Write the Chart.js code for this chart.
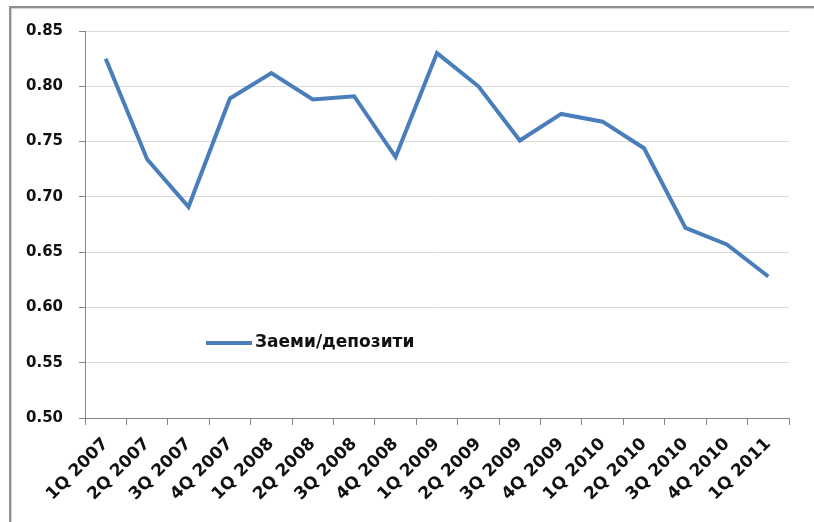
<!DOCTYPE html>
<html>
<head>
<meta charset="utf-8">
<script src="https://cdn.jsdelivr.net/npm/chart.js@4"></script>
<style>
html,body{margin:0;padding:0;background:#fff;}
#wrap{position:relative;width:814px;height:522px;overflow:hidden;}
#frame{position:absolute;left:9px;top:6px;width:900px;height:600px;border:2px solid #8f8f8f;box-shadow:1px 1px 1px #d0d0d0 inset;pointer-events:none;}
canvas{position:absolute;left:0;top:0;}
</style>
</head>
<body>
<div id="wrap">
<canvas id="c" width="814" height="522"></canvas>
<div id="frame"></div>
</div>
<script>
const categories = ["1Q 2007","2Q 2007","3Q 2007","4Q 2007","1Q 2008","2Q 2008","3Q 2008","4Q 2008","1Q 2009","2Q 2009","3Q 2009","4Q 2009","1Q 2010","2Q 2010","3Q 2010","4Q 2010","1Q 2011"];
const seriesName = "Заеми/депозити";
const loansDeposits = [0.825,0.734,0.691,0.789,0.812,0.788,0.791,0.736,0.830,0.800,0.751,0.775,0.768,0.744,0.672,0.657,0.628];
const yMin = 0.50, yMax = 0.85, yStep = 0.05;

const lineColor = "#4a7ebb";
const fontFamily = "'DejaVu Sans', sans-serif";

const legendPlugin = {
  id: 'insideLegend',
  afterDraw(chart) {
    const ctx = chart.ctx;
    const ds = chart.data.datasets[0];
    const x0 = 206, y0 = 343;
    ctx.save();
    ctx.strokeStyle = ds.borderColor;
    ctx.lineWidth = 4;
    ctx.lineCap = 'butt';
    ctx.beginPath();
    ctx.moveTo(x0, y0);
    ctx.lineTo(x0 + 46, y0);
    ctx.stroke();
    ctx.fillStyle = '#111';
    ctx.font = "bold 17px " + fontFamily;
    ctx.textBaseline = 'middle';
    ctx.textAlign = 'left';
    ctx.fillText(ds.label, x0 + 49, y0);
    ctx.restore();
  }
};

new Chart(document.getElementById('c'), {
  type: 'line',
  data: {
    labels: categories,
    datasets: [{
      label: seriesName,
      data: loansDeposits,
      borderColor: lineColor,
      backgroundColor: lineColor,
      borderWidth: 4,
      pointRadius: 0,
      tension: 0,
      fill: false,
      borderJoinStyle: 'miter'
    }]
  },
  options: {
    responsive: false,
    animation: false,
    devicePixelRatio: 1,
    layout: { padding: { left: 0, top: 31, right: 25, bottom: 0 } },
    plugins: { legend: { display: false }, tooltip: { enabled: false } },
    scales: {
      x: {
        type: 'category',
        offset: true,
        grid: { offset: true, drawOnChartArea: false, drawTicks: true, tickLength: 7, color: '#868686', tickColor: '#868686' },
        border: { display: true, color: '#868686', width: 1 },
        ticks: {
          autoSkip: false, maxRotation: 45, minRotation: 45, padding: 9,
          color: '#111', font: { family: fontFamily, size: 17, weight: 'bold' }
        },
        afterFit(scale) { scale.height = 104; }
      },
      y: {
        min: yMin, max: yMax,
        grid: { color: '#d9d9d9', tickColor: '#868686', tickLength: 6, lineWidth: 1 },
        border: { display: true, color: '#868686', width: 1 },
        ticks: {
          stepSize: yStep, padding: 16,
          color: '#111', font: { family: fontFamily, size: 15, weight: 'bold' },
          callback: v => Number(v).toFixed(2)
        },
        afterFit(scale) { scale.width = 85; }
      }
    }
  },
  plugins: [legendPlugin]
});
</script>
</body>
</html>
